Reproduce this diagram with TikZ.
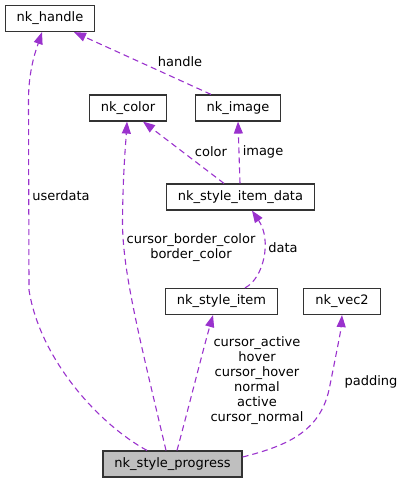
\documentclass[tikz,border=0pt]{standalone}
\usepackage{fontspec}
\setmainfont{DejaVu Sans}
\usetikzlibrary{arrows.meta}
\definecolor{edgepurple}{HTML}{9A32CD}

\begin{document}
\begin{tikzpicture}[x=1pt,y=-1pt,font=\fontsize{13}{15}\selectfont,
    class node/.style={draw=black!80,line width=1.2pt,fill=white,minimum height=26pt,inner xsep=11.5pt,inner ysep=0pt},
    main node/.style={class node,fill=black!25},
    dep/.style={draw=edgepurple,line width=1.1pt,dash pattern=on 6pt off 4pt,-{Triangle[length=12pt,width=9pt,fill=edgepurple]}},
    lbl/.style={align=center,inner sep=0pt}]
  \useasboundingbox (0,0) rectangle (403,483);
  \node[class node] (handle) at (50,18.5) {nk\_handle};
  \node[class node] (color) at (128,108) {nk\_color};
  \node[class node] (image) at (238,108) {nk\_image};
  \node[class node] (itemdata) at (240.5,197) {nk\_style\_item\_data};
  \node[class node] (item) at (221.5,301.5) {nk\_style\_item};
  \node[class node] (vec) at (342,301.5) {nk\_vec2};
  \node[main node] (prog) at (172.5,464) {nk\_style\_progress};

  % member edges
  \draw[dep] ([xshift=-25.5pt]prog.north) .. controls (100,425) and (40,360) .. (29,290)
    -- (28.5,100) .. controls (28.5,70) and (36,50) .. ([xshift=-8pt]handle.south);
  \draw[dep] ([xshift=-27pt]image.north) -- ([xshift=24pt]handle.south);
  \draw[dep] ([xshift=-16.5pt]itemdata.north) -- ([xshift=15pt]color.south);
  \draw[dep] ([xshift=-0.5pt]itemdata.north) -- (image.south);
  \draw[dep] ([xshift=-6.5pt]prog.north) .. controls (140,340) and (122,270) .. (122.5,220)
    .. controls (123,170) and (126,140) .. ([xshift=-1pt]color.south);
  \draw[dep] ([xshift=23.5pt]item.north) .. controls (264,278) and (272,240) .. ([xshift=11.5pt]itemdata.south);
  \draw[dep] ([xshift=4.5pt]prog.north) .. controls (188,410) and (203,350) .. ([xshift=-8.5pt]item.south);
  \draw[dep] ([yshift=7pt]prog.east) .. controls (290,445) and (322,430) .. (330,385)
    .. controls (337,350) and (341,330) .. (vec.south);

  % labels
  \node[lbl] (l-userdata) at (61,196) {userdata};
  \node[lbl] (l-handle) at (180,62) {handle};
  \node[lbl] (l-color) at (211,152) {color};
  \node[lbl] (l-image) at (263,152) {image};
  \node[lbl] (l-border) at (191,248) {cursor\_border\_color\\border\_color};
  \node[lbl] (l-data) at (283,248) {data};
  \node[lbl] (l-states) at (257,381) {cursor\_active\\hover\\cursor\_hover\\normal\\active\\cursor\_normal};
  \node[lbl] (l-padding) at (371,382) {padding};
\end{tikzpicture}
\end{document}
